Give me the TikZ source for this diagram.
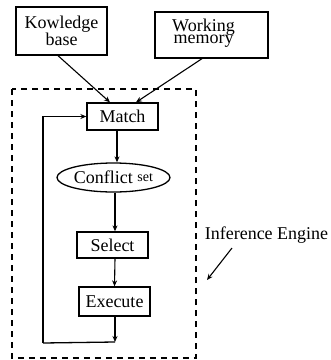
\documentclass[tikz,border=0pt]{standalone}
\usepackage{fontspec}
\setmainfont{Liberation Serif}
\usetikzlibrary{shapes.geometric,arrows.meta,calc}
\begin{document}
\begin{tikzpicture}[x=1pt,y=-1pt,
  every node/.style={inner sep=0pt,font=\fontsize{18}{16}\selectfont},
  box/.style={draw,line width=1.3pt,align=center},
  arr/.style={line width=1.1pt,-{Stealth[length=6pt,width=5pt]}},
  ln/.style={line width=1.3pt}]
\useasboundingbox (0,0) rectangle (331,360);
\draw[line width=1.3pt,dash pattern=on 6pt off 5pt] (12,89) rectangle (196,358);
\node[box,minimum width=91pt,minimum height=48pt] (kb) at (61.5,31) {Kowledge\\base};
\node[box,minimum width=113pt,minimum height=46pt] (wm) at (211.5,35) {};
\node[align=center,font=\fontsize{18}{12.5}\selectfont] (wmt) at (203.5,33) {Working\\memory};
\node[box,minimum width=71pt,minimum height=27pt] (match) at (122.5,116.5) {Match};
\node[draw,ellipse,line width=1.3pt,minimum width=113pt,minimum height=29pt] (cs) at (113.5,177.5) {Conflict \raisebox{2.5pt}{\fontsize{14}{14}\selectfont set}};
\node[box,minimum width=71pt,minimum height=26pt] (sel) at (112.5,245) {Select};
\node[box,minimum width=71pt,minimum height=29pt] (exe) at (114.5,301.5) {Execute};
\node (ie) at (266.5,235) {Inference Engine};
\coordinate (loopend) at (115,342);
\coordinate (loopcorner) at (43,343);
\coordinate (iestart) at (232,248);
\coordinate (ietip) at (207,280);
\draw[arr] ([xshift=-3.5pt]kb.south) -- ([xshift=-12.5pt]match.north);
\draw[arr] ([xshift=-9.5pt]wm.south) -- ([xshift=13.5pt]match.north);
\draw[arr] ([xshift=-5.5pt]match.south) -- ([xshift=3.5pt]cs.north);
\draw[arr] ([xshift=1.5pt]cs.south) -- ([xshift=2.5pt]sel.north);
\draw[arr] ([xshift=2.5pt]sel.south) -- (exe.north);
\draw[arr] ([xshift=0.5pt]exe.south) -- (loopend);
\draw[ln] (loopend) -- (loopcorner);
\draw[arr] (loopcorner) |- (match.west);
\draw[arr] (iestart) -- (ietip);
\end{tikzpicture}
\end{document}
